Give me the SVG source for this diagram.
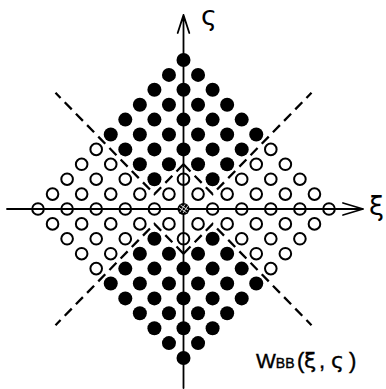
<svg xmlns="http://www.w3.org/2000/svg" width="386" height="389" viewBox="0 0 386 389">
<style>
.ax{stroke:#000;stroke-width:1.8;fill:none;stroke-linecap:round;stroke-linejoin:round}
.d{stroke:#000;stroke-width:2.3;fill:none;stroke-dasharray:10 6}
.o{fill:none;stroke:#000;stroke-width:2}
.t{font-family:"DejaVu Sans","Liberation Sans",sans-serif;fill:#000}
.l{font-family:"Liberation Sans","DejaVu Sans",sans-serif;fill:#000;stroke:#000;stroke-width:0.4}
</style>
<defs>
<circle id="F" r="7" fill="#000"/>
<circle id="O" r="5.8" class="o"/>
</defs>
<rect width="386" height="389" fill="#fff"/>
<g id="axes">
<path class="ax" d="M7 209H363M343 203L363 209L343 215"/>
<path class="ax" d="M183.5 388V15M177.7 33L183.5 15L189.3 33"/>
</g>
<g id="boundaries">
<path class="d" d="M183.5 164.3L154.4 194.1L55.5 92.8"/>
<path class="d" d="M183.5 164.3L212.6 194.1L311.5 92.8"/>
<path class="d" d="M183.5 253.7L154.4 223.9L55.5 325.2"/>
<path class="d" d="M183.5 253.7L212.6 223.9L311.5 325.2"/>
</g>
<g id="filled">
<use href="#F" x="183.5" y="60"/>
<use href="#F" x="168.95" y="74.9"/><use href="#F" x="198.05" y="74.9"/>
<use href="#F" x="154.4" y="89.8"/><use href="#F" x="183.5" y="89.8"/><use href="#F" x="212.6" y="89.8"/>
<use href="#F" x="139.85" y="104.7"/><use href="#F" x="168.95" y="104.7"/><use href="#F" x="198.05" y="104.7"/><use href="#F" x="227.15" y="104.7"/>
<use href="#F" x="125.3" y="119.6"/><use href="#F" x="154.4" y="119.6"/><use href="#F" x="183.5" y="119.6"/><use href="#F" x="212.6" y="119.6"/><use href="#F" x="241.7" y="119.6"/>
<use href="#F" x="110.75" y="134.5"/><use href="#F" x="139.85" y="134.5"/><use href="#F" x="168.95" y="134.5"/><use href="#F" x="198.05" y="134.5"/><use href="#F" x="227.15" y="134.5"/><use href="#F" x="256.25" y="134.5"/>
<use href="#F" x="125.3" y="149.4"/><use href="#F" x="154.4" y="149.4"/><use href="#F" x="183.5" y="149.4"/><use href="#F" x="212.6" y="149.4"/><use href="#F" x="241.7" y="149.4"/>
<use href="#F" x="139.85" y="164.3"/><use href="#F" x="168.95" y="164.3"/><use href="#F" x="198.05" y="164.3"/><use href="#F" x="227.15" y="164.3"/>
<use href="#F" x="154.4" y="179.2"/><use href="#F" x="212.6" y="179.2"/>
<use href="#F" x="154.4" y="238.8"/><use href="#F" x="212.6" y="238.8"/>
<use href="#F" x="139.85" y="253.7"/><use href="#F" x="168.95" y="253.7"/><use href="#F" x="198.05" y="253.7"/><use href="#F" x="227.15" y="253.7"/>
<use href="#F" x="125.3" y="268.6"/><use href="#F" x="154.4" y="268.6"/><use href="#F" x="183.5" y="268.6"/><use href="#F" x="212.6" y="268.6"/><use href="#F" x="241.7" y="268.6"/>
<use href="#F" x="110.75" y="283.5"/><use href="#F" x="139.85" y="283.5"/><use href="#F" x="168.95" y="283.5"/><use href="#F" x="198.05" y="283.5"/><use href="#F" x="227.15" y="283.5"/><use href="#F" x="256.25" y="283.5"/>
<use href="#F" x="125.3" y="298.4"/><use href="#F" x="154.4" y="298.4"/><use href="#F" x="183.5" y="298.4"/><use href="#F" x="212.6" y="298.4"/><use href="#F" x="241.7" y="298.4"/>
<use href="#F" x="139.85" y="313.3"/><use href="#F" x="168.95" y="313.3"/><use href="#F" x="198.05" y="313.3"/><use href="#F" x="227.15" y="313.3"/>
<use href="#F" x="154.4" y="328.2"/><use href="#F" x="183.5" y="328.2"/><use href="#F" x="212.6" y="328.2"/>
<use href="#F" x="168.95" y="343.1"/><use href="#F" x="198.05" y="343.1"/>
<use href="#F" x="183.5" y="358"/>
</g>
<g id="open">
<use href="#O" x="96.2" y="149.4"/><use href="#O" x="270.8" y="149.4"/>
<use href="#O" x="81.65" y="164.3"/><use href="#O" x="110.75" y="164.3"/><use href="#O" x="256.25" y="164.3"/><use href="#O" x="285.35" y="164.3"/>
<use href="#O" x="67.1" y="179.2"/><use href="#O" x="96.2" y="179.2"/><use href="#O" x="125.3" y="179.2"/><use href="#O" x="183.5" y="179.2"/><use href="#O" x="241.7" y="179.2"/><use href="#O" x="270.8" y="179.2"/><use href="#O" x="299.9" y="179.2"/>
<use href="#O" x="52.55" y="194.1"/><use href="#O" x="81.65" y="194.1"/><use href="#O" x="110.75" y="194.1"/><use href="#O" x="139.85" y="194.1"/><use href="#O" x="168.95" y="194.1"/><use href="#O" x="198.05" y="194.1"/><use href="#O" x="227.15" y="194.1"/><use href="#O" x="256.25" y="194.1"/><use href="#O" x="285.35" y="194.1"/><use href="#O" x="314.45" y="194.1"/>
<use href="#O" x="38" y="209"/><use href="#O" x="67.1" y="209"/><use href="#O" x="96.2" y="209"/><use href="#O" x="125.3" y="209"/><use href="#O" x="154.4" y="209"/><use href="#O" x="212.6" y="209"/><use href="#O" x="241.7" y="209"/><use href="#O" x="270.8" y="209"/><use href="#O" x="299.9" y="209"/><use href="#O" x="329" y="209"/>
<use href="#O" x="52.55" y="223.9"/><use href="#O" x="81.65" y="223.9"/><use href="#O" x="110.75" y="223.9"/><use href="#O" x="139.85" y="223.9"/><use href="#O" x="168.95" y="223.9"/><use href="#O" x="198.05" y="223.9"/><use href="#O" x="227.15" y="223.9"/><use href="#O" x="256.25" y="223.9"/><use href="#O" x="285.35" y="223.9"/><use href="#O" x="314.45" y="223.9"/>
<use href="#O" x="67.1" y="238.8"/><use href="#O" x="96.2" y="238.8"/><use href="#O" x="125.3" y="238.8"/><use href="#O" x="183.5" y="238.8"/><use href="#O" x="241.7" y="238.8"/><use href="#O" x="270.8" y="238.8"/><use href="#O" x="299.9" y="238.8"/>
<use href="#O" x="81.65" y="253.7"/><use href="#O" x="110.75" y="253.7"/><use href="#O" x="256.25" y="253.7"/><use href="#O" x="285.35" y="253.7"/>
<use href="#O" x="96.2" y="268.6"/><use href="#O" x="270.8" y="268.6"/>
</g>
<g id="origin">
<circle cx="183.5" cy="209" r="6" fill="#000"/>
<path d="M180 212L185 204.5M183 213L188 205.5M179 207.5L186.5 212.5M180.5 205L188 210" stroke="#fff" stroke-width="0.8"/>
</g>
<g id="labels">
<text class="t" x="201" y="25" font-size="27">ς</text>
<text class="t" x="369" y="215" font-size="27">ξ</text>
<text class="l" y="368"><tspan x="256" font-size="21">W</tspan><tspan font-size="14">BB</tspan><tspan x="297" font-size="22">(</tspan><tspan x="304" font-size="22" class="t">ξ</tspan><tspan x="319" font-size="22">,</tspan><tspan x="331" font-size="22" class="t">ς</tspan><tspan x="349" font-size="22">)</tspan></text>
</g>
</svg>
